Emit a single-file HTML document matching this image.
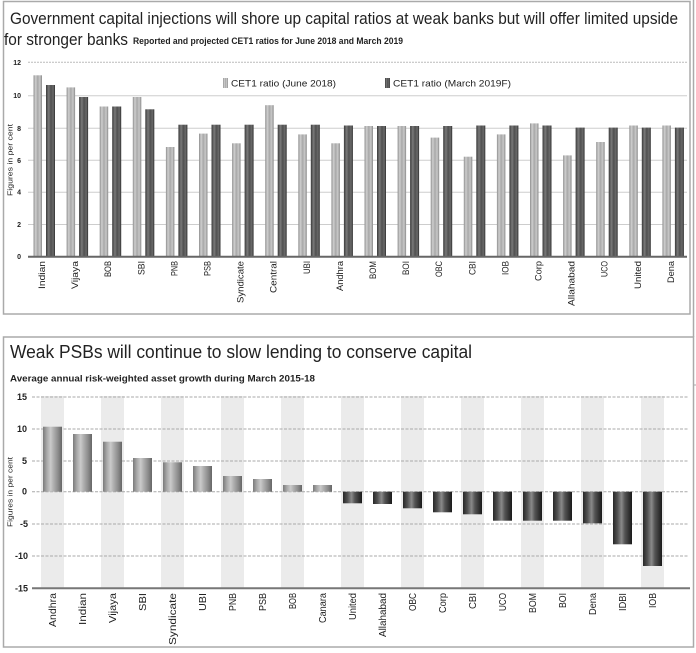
<!DOCTYPE html>
<html><head><meta charset="utf-8"><style>
html,body{margin:0;padding:0;background:#fff;}
svg{display:block;}
text{font-family:"Liberation Sans Narrow","Liberation Sans",sans-serif;fill:#222;}
</style></head><body>
<svg width="696" height="653" viewBox="0 0 696 653" xmlns="http://www.w3.org/2000/svg">
<defs>
<linearGradient id="lt" x1="0" x2="1" y1="0" y2="0">
<stop offset="0" stop-color="#8e8e8e"/><stop offset="0.25" stop-color="#cfcfcf"/><stop offset="0.5" stop-color="#a8a8a8"/><stop offset="0.75" stop-color="#c8c8c8"/><stop offset="1" stop-color="#8a8a8a"/>
</linearGradient>
<linearGradient id="dk" x1="0" x2="1" y1="0" y2="0">
<stop offset="0" stop-color="#3a3a3a"/><stop offset="0.3" stop-color="#7a7a7a"/><stop offset="0.55" stop-color="#505050"/><stop offset="0.8" stop-color="#6a6a6a"/><stop offset="1" stop-color="#2e2e2e"/>
</linearGradient>
<linearGradient id="pos" x1="0" x2="1" y1="0" y2="0">
<stop offset="0" stop-color="#7a7a7a"/><stop offset="0.2" stop-color="#a8a8a8"/><stop offset="0.4" stop-color="#cacaca"/><stop offset="0.55" stop-color="#b0b0b0"/><stop offset="0.78" stop-color="#8e8e8e"/><stop offset="1" stop-color="#666"/>
</linearGradient>
<linearGradient id="neg" x1="0" x2="1" y1="0" y2="0">
<stop offset="0" stop-color="#262626"/><stop offset="0.25" stop-color="#555"/><stop offset="0.45" stop-color="#8a8a8a"/><stop offset="0.62" stop-color="#555"/><stop offset="1" stop-color="#1a1a1a"/>
</linearGradient>
</defs>

<!-- ================= TOP CHART ================= -->
<rect x="3.5" y="1.5" width="686.5" height="312.5" fill="none" stroke="#aaa" stroke-width="1.5"/>
<line x1="693.5" y1="0" x2="693.5" y2="337" stroke="#aaa" stroke-width="1.5"/>

<text x="10" y="24" font-size="17" textLength="668" lengthAdjust="spacingAndGlyphs">Government capital injections will shore up capital ratios at weak banks but will offer limited upside</text>
<text x="4" y="45" font-size="17" textLength="124" lengthAdjust="spacingAndGlyphs">for stronger banks</text>
<text x="133" y="44" font-size="9.5" font-weight="bold" textLength="270" lengthAdjust="spacingAndGlyphs">Reported and projected CET1 ratios for June 2018 and March 2019</text>

<!-- gridlines -->
<line x1="28" y1="62.3" x2="687" y2="62.3" stroke="#bbb" stroke-width="1" stroke-dasharray="2,1"/>
<g stroke="#cdcdcd" stroke-width="1">
<line x1="28" y1="95.7" x2="687" y2="95.7"/>
<line x1="28" y1="128.3" x2="687" y2="128.3"/>
<line x1="28" y1="160.3" x2="687" y2="160.3"/>
<line x1="28" y1="192.2" x2="687" y2="192.2"/>
<line x1="28" y1="224.5" x2="687" y2="224.5"/>
</g>

<!-- y ticks -->
<g font-size="7" font-weight="bold" text-anchor="end">
<text x="21" y="64.8">12</text>
<text x="21" y="98.2">10</text>
<text x="21" y="130.8">8</text>
<text x="21" y="162.8">6</text>
<text x="21" y="194.7">4</text>
<text x="21" y="227">2</text>
<text x="21" y="259.2">0</text>
</g>
<text transform="translate(12.5,160) rotate(-90)" font-size="7" text-anchor="middle" textLength="72" lengthAdjust="spacingAndGlyphs">Figures in per cent</text>

<!-- legend -->
<rect x="223" y="78" width="5" height="10" fill="url(#lt)"/>
<text x="231" y="86.5" font-size="9" textLength="105" lengthAdjust="spacingAndGlyphs">CET1 ratio (June 2018)</text>
<rect x="385" y="78" width="5" height="10" fill="url(#dk)"/>
<text x="393" y="86.5" font-size="9" textLength="118" lengthAdjust="spacingAndGlyphs">CET1 ratio (March 2019F)</text>

<!-- bars light -->
<g fill="url(#lt)">
<rect x="33.5" y="75.3" width="8.5" height="181.4"/>
<rect x="66.6" y="87.4" width="8.5" height="169.3"/>
<rect x="99.7" y="106.5" width="8.5" height="150.2"/>
<rect x="132.8" y="97" width="8.5" height="159.7"/>
<rect x="165.9" y="147" width="8.5" height="109.7"/>
<rect x="199" y="133.6" width="8.5" height="123.1"/>
<rect x="232.1" y="143.3" width="8.5" height="113.4"/>
<rect x="265.2" y="105.2" width="8.5" height="151.5"/>
<rect x="298.3" y="134.4" width="8.5" height="122.3"/>
<rect x="331.4" y="143.3" width="8.5" height="113.4"/>
<rect x="364.5" y="126" width="8.5" height="130.7"/>
<rect x="397.6" y="126" width="8.5" height="130.7"/>
<rect x="430.7" y="137.6" width="8.5" height="119.1"/>
<rect x="463.8" y="156.7" width="8.5" height="100"/>
<rect x="496.9" y="134.4" width="8.5" height="122.3"/>
<rect x="530" y="123.4" width="8.5" height="133.3"/>
<rect x="563.1" y="155.4" width="8.5" height="101.3"/>
<rect x="596.2" y="142" width="8.5" height="114.7"/>
<rect x="629.3" y="125.5" width="8.5" height="131.2"/>
<rect x="662.4" y="125.5" width="8.5" height="131.2"/>
</g>
<!-- bars dark -->
<g fill="url(#dk)">
<rect x="46" y="85" width="9" height="171.7"/>
<rect x="79.1" y="97" width="9" height="159.7"/>
<rect x="112.2" y="106.5" width="9" height="150.2"/>
<rect x="145.3" y="109.3" width="9" height="147.4"/>
<rect x="178.4" y="124.7" width="9" height="132"/>
<rect x="211.5" y="124.7" width="9" height="132"/>
<rect x="244.6" y="124.7" width="9" height="132"/>
<rect x="277.7" y="124.7" width="9" height="132"/>
<rect x="310.8" y="124.7" width="9" height="132"/>
<rect x="343.9" y="125.5" width="9" height="131.2"/>
<rect x="377" y="126" width="9" height="130.7"/>
<rect x="410.1" y="126" width="9" height="130.7"/>
<rect x="443.2" y="126" width="9" height="130.7"/>
<rect x="476.3" y="125.5" width="9" height="131.2"/>
<rect x="509.4" y="125.5" width="9" height="131.2"/>
<rect x="542.5" y="125.5" width="9" height="131.2"/>
<rect x="575.6" y="127.6" width="9" height="129.1"/>
<rect x="608.7" y="127.6" width="9" height="129.1"/>
<rect x="641.8" y="127.6" width="9" height="129.1"/>
<rect x="674.9" y="127.6" width="9" height="129.1"/>
</g>
<line x1="28" y1="256.7" x2="687" y2="256.7" stroke="#666" stroke-width="2"/>

<!-- top x labels -->
<g font-size="9" text-anchor="end" fill="#333">
<text transform="translate(45,261) rotate(-90)" textLength="28" lengthAdjust="spacingAndGlyphs">Indian</text>
<text transform="translate(78.1,261) rotate(-90)" textLength="28" lengthAdjust="spacingAndGlyphs">Vijaya</text>
<text transform="translate(111.2,261) rotate(-90)" textLength="16" lengthAdjust="spacingAndGlyphs">BOB</text>
<text transform="translate(144.3,261) rotate(-90)" textLength="14" lengthAdjust="spacingAndGlyphs">SBI</text>
<text transform="translate(177.4,261) rotate(-90)" textLength="15" lengthAdjust="spacingAndGlyphs">PNB</text>
<text transform="translate(210.5,261) rotate(-90)" textLength="15" lengthAdjust="spacingAndGlyphs">PSB</text>
<text transform="translate(243.6,261) rotate(-90)" textLength="42" lengthAdjust="spacingAndGlyphs">Syndicate</text>
<text transform="translate(276.7,261) rotate(-90)" textLength="32" lengthAdjust="spacingAndGlyphs">Central</text>
<text transform="translate(309.8,261) rotate(-90)" textLength="13" lengthAdjust="spacingAndGlyphs">UBI</text>
<text transform="translate(342.9,261) rotate(-90)" textLength="30" lengthAdjust="spacingAndGlyphs">Andhra</text>
<text transform="translate(376,261) rotate(-90)" textLength="18" lengthAdjust="spacingAndGlyphs">BOM</text>
<text transform="translate(409.1,261) rotate(-90)" textLength="14" lengthAdjust="spacingAndGlyphs">BOI</text>
<text transform="translate(442.2,261) rotate(-90)" textLength="16" lengthAdjust="spacingAndGlyphs">OBC</text>
<text transform="translate(475.3,261) rotate(-90)" textLength="14" lengthAdjust="spacingAndGlyphs">CBI</text>
<text transform="translate(508.4,261) rotate(-90)" textLength="14" lengthAdjust="spacingAndGlyphs">IOB</text>
<text transform="translate(541.5,261) rotate(-90)" textLength="20" lengthAdjust="spacingAndGlyphs">Corp</text>
<text transform="translate(574.6,261) rotate(-90)" textLength="45" lengthAdjust="spacingAndGlyphs">Allahabad</text>
<text transform="translate(607.7,261) rotate(-90)" textLength="16" lengthAdjust="spacingAndGlyphs">UCO</text>
<text transform="translate(640.8,261) rotate(-90)" textLength="28" lengthAdjust="spacingAndGlyphs">United</text>
<text transform="translate(673.9,261) rotate(-90)" textLength="22" lengthAdjust="spacingAndGlyphs">Dena</text>
</g>

<!-- ================= BOTTOM CHART ================= -->
<rect x="3.5" y="337" width="690" height="310" fill="none" stroke="#aaa" stroke-width="1.5"/>
<line x1="693" y1="385" x2="696" y2="385" stroke="#aaa" stroke-width="1"/>

<text x="10" y="358" font-size="18" textLength="462" lengthAdjust="spacingAndGlyphs">Weak PSBs will continue to slow lending to conserve capital</text>
<text x="10" y="381.5" font-size="9.5" font-weight="bold" textLength="305" lengthAdjust="spacingAndGlyphs">Average annual risk-weighted asset growth during March 2015-18</text>

<!-- bands -->
<g fill="#ebebeb">
<rect x="41" y="396" width="23" height="192"/>
<rect x="101" y="396" width="23" height="192"/>
<rect x="161" y="396" width="23" height="192"/>
<rect x="221" y="396" width="23" height="192"/>
<rect x="281" y="396" width="23" height="192"/>
<rect x="341" y="396" width="23" height="192"/>
<rect x="401" y="396" width="23" height="192"/>
<rect x="461" y="396" width="23" height="192"/>
<rect x="521" y="396" width="23" height="192"/>
<rect x="581" y="396" width="23" height="192"/>
<rect x="641" y="396" width="23" height="192"/>
</g>

<!-- gridlines -->
<g stroke="#a8a8a8" stroke-width="1" stroke-dasharray="3,1.5">
<line x1="32" y1="397" x2="689" y2="397"/>
<line x1="32" y1="429" x2="689" y2="429"/>
<line x1="32" y1="461" x2="689" y2="461"/>
<line x1="32" y1="491.7" x2="689" y2="491.7"/>
<line x1="32" y1="524" x2="689" y2="524"/>
<line x1="32" y1="556" x2="689" y2="556"/>
</g>

<g font-size="9" font-weight="bold" text-anchor="end">
<text x="27" y="400">15</text>
<text x="27" y="432">10</text>
<text x="27" y="464">5</text>
<text x="27" y="494.7">0</text>
<text x="28" y="527">-5</text>
<text x="28" y="559">-10</text>
<text x="28" y="591.3">-15</text>
</g>
<text transform="translate(12.5,492) rotate(-90)" font-size="7" text-anchor="middle" textLength="70" lengthAdjust="spacingAndGlyphs">Figures in per cent</text>

<!-- bars -->
<g fill="url(#pos)">
<rect x="43" y="426.7" width="19" height="65"/>
<rect x="73" y="434" width="19" height="57.7"/>
<rect x="103" y="441.7" width="19" height="50"/>
<rect x="133" y="458" width="19" height="33.7"/>
<rect x="163" y="462.3" width="19" height="29.4"/>
<rect x="193" y="466" width="19" height="25.7"/>
<rect x="223" y="476" width="19" height="15.7"/>
<rect x="253" y="479" width="19" height="12.7"/>
<rect x="283" y="485" width="19" height="6.7"/>
<rect x="313" y="485" width="19" height="6.7"/>
</g>
<g fill="url(#neg)">
<rect x="343" y="491.7" width="19" height="11.6"/>
<rect x="373" y="491.7" width="19" height="12.3"/>
<rect x="403" y="491.7" width="19" height="16.6"/>
<rect x="433" y="491.7" width="19" height="20.6"/>
<rect x="463" y="491.7" width="19" height="22.6"/>
<rect x="493" y="491.7" width="19" height="29"/>
<rect x="523" y="491.7" width="19" height="29"/>
<rect x="553" y="491.7" width="19" height="29"/>
<rect x="583" y="491.7" width="19" height="31.6"/>
<rect x="613" y="491.7" width="19" height="52.6"/>
<rect x="643" y="491.7" width="19" height="74.3"/>
</g>
<line x1="32" y1="588.3" x2="690" y2="588.3" stroke="#777" stroke-width="2"/>

<!-- bottom x labels -->
<g font-size="10" text-anchor="end" fill="#333">
<text transform="translate(56,593) rotate(-90)" textLength="34" lengthAdjust="spacingAndGlyphs">Andhra</text>
<text transform="translate(86,593) rotate(-90)" textLength="32" lengthAdjust="spacingAndGlyphs">Indian</text>
<text transform="translate(116,593) rotate(-90)" textLength="30" lengthAdjust="spacingAndGlyphs">Vijaya</text>
<text transform="translate(146,593) rotate(-90)" textLength="18" lengthAdjust="spacingAndGlyphs">SBI</text>
<text transform="translate(176,593) rotate(-90)" textLength="52" lengthAdjust="spacingAndGlyphs">Syndicate</text>
<text transform="translate(206,593) rotate(-90)" textLength="18" lengthAdjust="spacingAndGlyphs">UBI</text>
<text transform="translate(236,593) rotate(-90)" textLength="18" lengthAdjust="spacingAndGlyphs">PNB</text>
<text transform="translate(266,593) rotate(-90)" textLength="18" lengthAdjust="spacingAndGlyphs">PSB</text>
<text transform="translate(296,593) rotate(-90)" textLength="16" lengthAdjust="spacingAndGlyphs">BOB</text>
<text transform="translate(326,593) rotate(-90)" textLength="30" lengthAdjust="spacingAndGlyphs">Canara</text>
<text transform="translate(356,593) rotate(-90)" textLength="27" lengthAdjust="spacingAndGlyphs">United</text>
<text transform="translate(386,593) rotate(-90)" textLength="44" lengthAdjust="spacingAndGlyphs">Allahabad</text>
<text transform="translate(416,593) rotate(-90)" textLength="18" lengthAdjust="spacingAndGlyphs">OBC</text>
<text transform="translate(446,593) rotate(-90)" textLength="20" lengthAdjust="spacingAndGlyphs">Corp</text>
<text transform="translate(476,593) rotate(-90)" textLength="16" lengthAdjust="spacingAndGlyphs">CBI</text>
<text transform="translate(506,593) rotate(-90)" textLength="18" lengthAdjust="spacingAndGlyphs">UCO</text>
<text transform="translate(536,593) rotate(-90)" textLength="20" lengthAdjust="spacingAndGlyphs">BOM</text>
<text transform="translate(566,593) rotate(-90)" textLength="15" lengthAdjust="spacingAndGlyphs">BOI</text>
<text transform="translate(596,593) rotate(-90)" textLength="22" lengthAdjust="spacingAndGlyphs">Dena</text>
<text transform="translate(626,593) rotate(-90)" textLength="18" lengthAdjust="spacingAndGlyphs">IDBI</text>
<text transform="translate(656,593) rotate(-90)" textLength="15" lengthAdjust="spacingAndGlyphs">IOB</text>
</g>
</svg>
</body></html>
